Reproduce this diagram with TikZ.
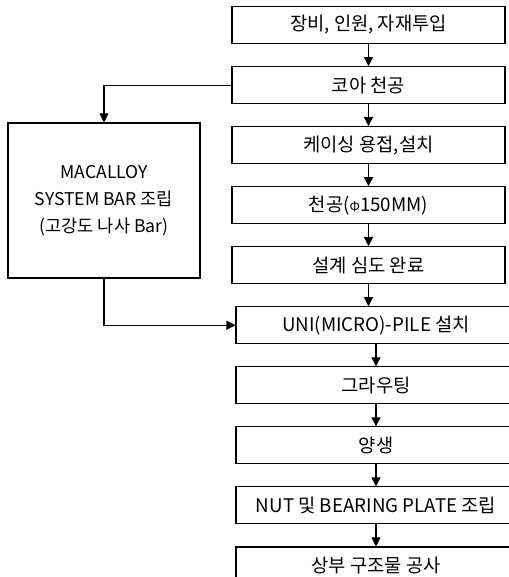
\documentclass[tikz,border=0pt]{standalone}
\usepackage{fontspec}
\setmainfont{Noto Sans CJK KR}
\usetikzlibrary{arrows.meta,positioning}

\begin{document}
\begin{tikzpicture}[
  node distance=0.66cm,
  stepbox/.style={rectangle, draw, line width=0.9pt, minimum width=8.19cm,
                  minimum height=1.11cm, inner sep=0pt, font=\fontsize{16}{19}\selectfont},
  widebox/.style={stepbox, minimum width=8.4cm},
  barbox/.style={rectangle, draw, line width=0.9pt, minimum width=5.76cm,
                 minimum height=4.65cm, inner sep=0pt, align=center,
                 font=\fontsize{15}{23}\selectfont},
  arr/.style={-{Triangle[length=0.27cm, width=0.27cm]}, line width=0.9pt},
]
\clip (0,0) rectangle (15.27,17.31);

% Main steps
\node[stepbox] (b1) at (11.055,16.56) {장비, 인원, 자재투입};
\node[stepbox, below=of b1] (b2) {코아 천공};
\node[stepbox, below=of b2] (b3) {케이싱 용접,설치};
\node[stepbox, below=of b3] (b4) {천공({\fontsize{11}{11}\selectfont Φ}150MM)};
\node[stepbox, below=of b4] (b5) {설계 심도 완료};
\node[widebox, below=of b5, xshift=0.225cm] (b6) {UNI(MICRO)-PILE 설치};
\node[widebox, below=of b6] (b7) {그라우팅};
\node[widebox, below=of b7] (b8) {양생};
\node[widebox, below=of b8] (b9) {NUT 및 BEARING PLATE 조립};
\node[widebox, below=of b9] (b10) {상부 구조물 공사};

% Bar assembly
\node[barbox] (bar) at (3.12,11.295) {MACALLOY\\SYSTEM BAR 조립\\(고강도 나사 Bar)};

% Flow
\draw[arr] (b1) -- (b2);
\draw[arr] (b2) -- (b3);
\draw[arr] (b3) -- (b4);
\draw[arr] (b4) -- (b5);
\draw[arr] (b5.south) -- (b5.south |- b6.north);
\draw[arr] (b6) -- (b7);
\draw[arr] (b7) -- (b8);
\draw[arr] (b8) -- (b9);
\draw[arr] (b9) -- (b10);

% Side branch
\draw[arr] (b2.west) -| (bar.north);
\draw[arr] (bar.south) |- (b6.west);

\end{tikzpicture}
\end{document}
